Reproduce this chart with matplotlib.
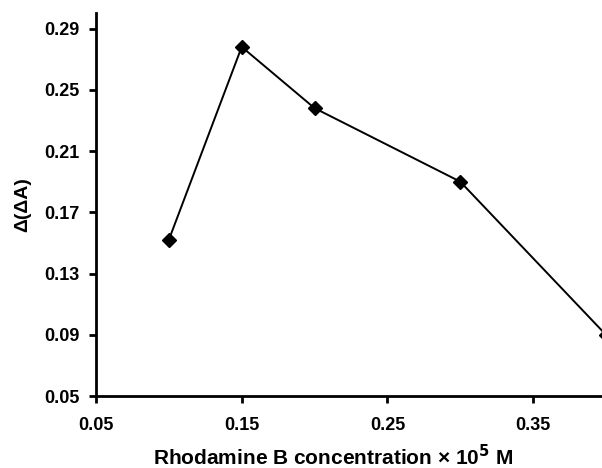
import matplotlib.pyplot as plt

plt.rcParams['font.family'] = ['Liberation Sans', 'DejaVu Sans']
plt.rcParams['font.weight'] = 'bold'

conc = [0.10, 0.15, 0.20, 0.30, 0.40]
dda = [0.152, 0.278, 0.238, 0.190, 0.090]

xticks = [0.05, 0.15, 0.25, 0.35]
yticks = [0.05, 0.09, 0.13, 0.17, 0.21, 0.25, 0.29]

fig = plt.figure(figsize=(6.02, 4.68), dpi=100)
ax = fig.add_axes([0.1595, 0.1538, 0.847, 0.818])

ax.plot(conc, dda, color='black', lw=1.4, marker='D', ms=7,
        mfc='black', mec='black', clip_on=False)

ax.set_xlim(0.05, 0.40)
ax.set_ylim(0.05, 0.30)
ax.set_xticks(xticks)
ax.set_yticks(yticks)
ax.set_xticklabels(['%.2f' % v for v in xticks])
ax.set_yticklabels(['%.2f' % v for v in yticks])

for s in ['top', 'right']:
    ax.spines[s].set_visible(False)
for s in ['left', 'bottom']:
    ax.spines[s].set_linewidth(2)
ax.tick_params(direction='out', length=5, width=2, labelsize=13)
ax.tick_params(axis='x', pad=10)
ax.tick_params(axis='y', pad=7)

ax.set_xlabel('Rhodamine B concentration \u00d7 10$^{\\mathbf{5}}$ M',
              fontsize=15, fontweight='bold')
ax.xaxis.label.set_verticalalignment('baseline')
ax.xaxis.set_label_coords(0.465, -0.181)
ax.set_ylabel('\u0394(\u0394A)', fontsize=14, fontweight='bold', labelpad=9)

fig.savefig('out.png', dpi=100)
